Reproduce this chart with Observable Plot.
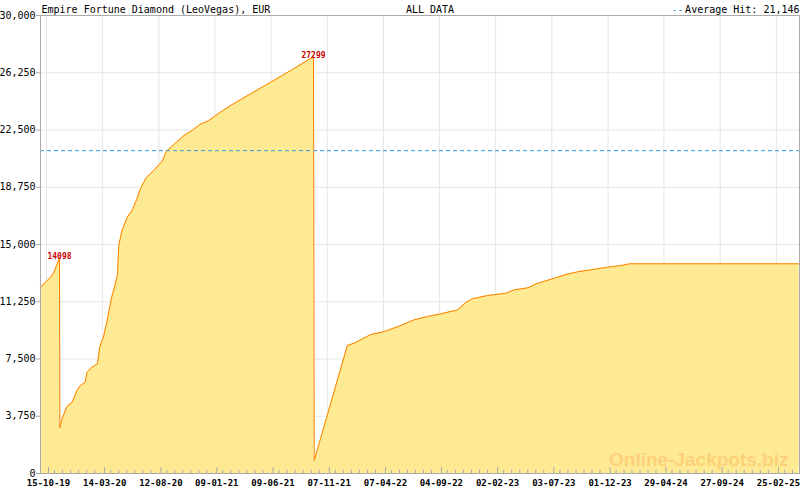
<!DOCTYPE html>
<html><head><meta charset="utf-8">
<script src="https://cdn.jsdelivr.net/npm/d3@7"></script>
<script src="https://cdn.jsdelivr.net/npm/@observablehq/plot@0.6"></script>
<style>html,body{margin:0;padding:0;background:#fff;}</style>
</head><body><div id="chart"></div>
<script>
const title = "Empire Fortune Diamond (LeoVegas), EUR";
const period = "ALL DATA";
const legendDash = "--";
const legendLabel = "Average Hit: 21,146";
const watermark = "Online-Jackpots.biz";
const averageHit = 21146;

const dates = [
  "2019-09-29","2019-10-26","2019-11-04","2019-11-19","2019-11-20","2019-11-26","2019-12-09","2019-12-23",
  "2020-01-05","2020-01-14","2020-01-27","2020-02-01","2020-02-14","2020-02-29","2020-03-06","2020-03-17",
  "2020-03-26","2020-04-06","2020-04-17","2020-04-23","2020-04-26","2020-05-05","2020-05-19","2020-06-01",
  "2020-06-14","2020-06-23","2020-07-09","2020-07-29","2020-08-21","2020-09-01","2020-09-25","2020-10-18",
  "2020-11-09","2020-11-30","2020-12-24","2021-01-11","2021-02-20","2021-04-15","2021-06-08","2021-08-01",
  "2021-10-01","2021-10-03","2021-12-31","2022-01-18","2022-03-04","2022-04-09","2022-05-24","2022-06-28",
  "2022-08-03","2022-09-08","2022-10-23","2022-11-15","2022-12-02","2023-01-11","2023-03-02","2023-03-24",
  "2023-04-30","2023-05-22","2023-06-13","2023-07-10","2023-08-10","2023-09-10","2023-10-16","2023-11-30",
  "2024-01-05","2024-01-27","2025-04-27"
];
const values = [
  12200,12860,13185,14098,2990,3580,4390,4670,
  5440,5760,5980,6635,6960,7185,8270,9040,
  10020,11440,12425,13080,14930,15920,16790,17230,
  17990,18650,19370,19850,20460,21110,21635,22140,
  22470,22860,23120,23450,24100,24870,25630,26400,
  27299,850,8385,8535,9105,9300,9695,10065,
  10285,10460,10720,11220,11445,11660,11810,12030,
  12165,12425,12595,12790,13035,13210,13340,13515,
  13625,13735,13735
];
const peakDates = ["2019-11-19","2021-10-01"];
const peakValues = [14098, 27299];

const xTickLabels = ["15-10-19","14-03-20","12-08-20","09-01-21","09-06-21","07-11-21","07-04-22",
  "04-09-22","02-02-23","03-07-23","01-12-23","29-04-24","27-09-24","25-02-25"];
const yTicks = [0,3750,7500,11250,15000,18750,22500,26250,30000];
const xDomain = ["2019-09-29","2025-04-28"];

const parseTick = d3.utcParse("%d-%m-%y");
const fmtTick = d3.utcFormat("%d-%m-%y");
const series = dates.map((d,i)=>({date:new Date(d), value:values[i]}));
const peaks = peakDates.map((d,i)=>({date:new Date(d), value:peakValues[i]}));
const majors = xTickLabels.map(parseTick);
const minors = [];
for (let i=0;i<majors.length-1;i++){
  const a=+majors[i], b=+majors[i+1];
  for (let k=1;k<7;k++) minors.push(new Date(a+(b-a)*k/7));
}
{ const n=majors.length, a=+majors[n-2], b=+majors[n-1];
  for (let k=1;k<=2;k++) minors.push(new Date(b+(b-a)*k/7)); }

const mono = "DejaVu Sans Mono";
const chart = Plot.plot({
  width: 800, height: 490,
  marginLeft: 40, marginRight: 1, marginTop: 15, marginBottom: 17,
  style: {fontFamily: mono, fontSize: "10px", background: "#fff", color: "#000"},
  x: {type: "utc", domain: xDomain.map(d=>new Date(d))},
  y: {domain: [0, 30000]},
  marks: [
    Plot.gridY(yTicks, {stroke: "#e6e6e6", strokeOpacity: 1}),
    Plot.gridX(majors, {stroke: "#e6e6e6", strokeOpacity: 1}),
    Plot.areaY(series, {x: "date", y: "value", fill: "#ffea94"}),
    Plot.lineY(series, {x: "date", y: "value", stroke: "#ff8000", strokeWidth: 1}),
    Plot.ruleY([averageHit], {stroke: "#2f9bd8", strokeDasharray: "4,3"}),
    Plot.text([watermark], {frameAnchor: "bottom-right", text: d=>d, textAnchor: "end", lineAnchor: "bottom",
      dx: -11, dy: -8, fontSize: 19, fontWeight: "bold", fontFamily: "Liberation Sans", fill: "#fdd07a"}),
    Plot.text(peaks, {x: "date", y: "value", text: d=>String(d.value), lineAnchor: "bottom", dy: 1,
      fill: "#cc0000", fontSize: 8, fontWeight: "bold", fontFamily: mono}),
    Plot.frame({stroke: "#aaa"}),
    Plot.axisY(yTicks, {tickSize: 4, tickPadding: 1, tickFormat: d3.format(","), stroke: "#aaa", label: null, fontSize: 10}),
    Plot.axisX(minors, {tickSize: -3, tickFormat: ()=>"", stroke: "#aaa", label: null}),
    Plot.axisX(majors, {tickSize: -6, tickPadding: 12, dx: 2, tickFormat: fmtTick, stroke: "#aaa", label: null,
      fontSize: 9, fontWeight: "bold", fontFamily: mono}),
    Plot.text([title], {frameAnchor: "top-left", text: d=>d, textAnchor: "start", lineAnchor: "bottom", dx: 1, dy: -3, fontSize: 10}),
    Plot.text([period], {frameAnchor: "top", text: d=>d, textAnchor: "middle", lineAnchor: "bottom", dx: 10, dy: -3, fontSize: 10}),
    Plot.text([legendLabel], {frameAnchor: "top-right", text: d=>d, textAnchor: "end", lineAnchor: "bottom", dy: -3, fontSize: 10}),
    Plot.text([legendDash], {frameAnchor: "top-right", text: d=>d, textAnchor: "end", lineAnchor: "bottom", dx: -116, dy: -3, fontSize: 10, fill: "#2f9bd8"})
  ]
});
document.getElementById("chart").appendChild(chart);
</script>
</body></html>
